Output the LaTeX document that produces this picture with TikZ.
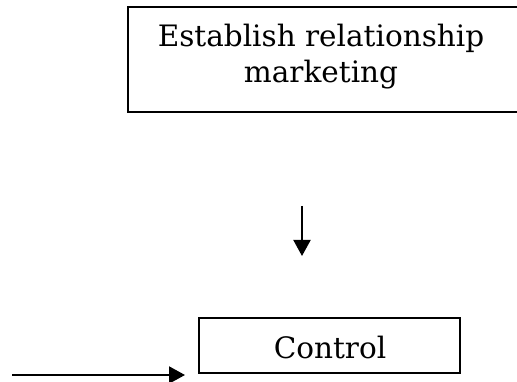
\documentclass[tikz,border=0pt]{standalone}
\usepackage{fontspec}
\setmainfont{DejaVu Serif}
\usetikzlibrary{arrows.meta}
\tikzset{
  box/.style={draw=black, line width=2.2pt, inner sep=0pt},
  label/.style={font=\fontsize{29.5}{36}\selectfont, align=center, inner sep=0pt},
  link/.style={line width=2pt, -{Triangle[length=16pt,width=17pt]}}
}
\begin{document}
\begin{tikzpicture}[x=1pt,y=-1pt]
  \useasboundingbox (0,0) rectangle (517,382);
  % upper step, its right side runs past the edge of the page
  \node[box, minimum width=404pt, minimum height=105pt] (est) at (330,59.5) {};
  \node[label, anchor=base] (esttext) at (321,83) {Establish relationship\\marketing};
  % lower step
  \node[box, minimum width=261pt, minimum height=55pt] (ctrl) at (329.5,345.5) {};
  \node[label, anchor=base] (ctrltext) at (330,358) {Control};
  % loose arrows
  \coordinate (dtop) at (302,206);
  \coordinate (dend) at (302,256);
  \draw[link] (dtop) -- (dend);
  \coordinate (lstart) at (12,375);
  \coordinate (lend) at (185,375);
  \draw[link] (lstart) -- (lend);
\end{tikzpicture}
\end{document}
